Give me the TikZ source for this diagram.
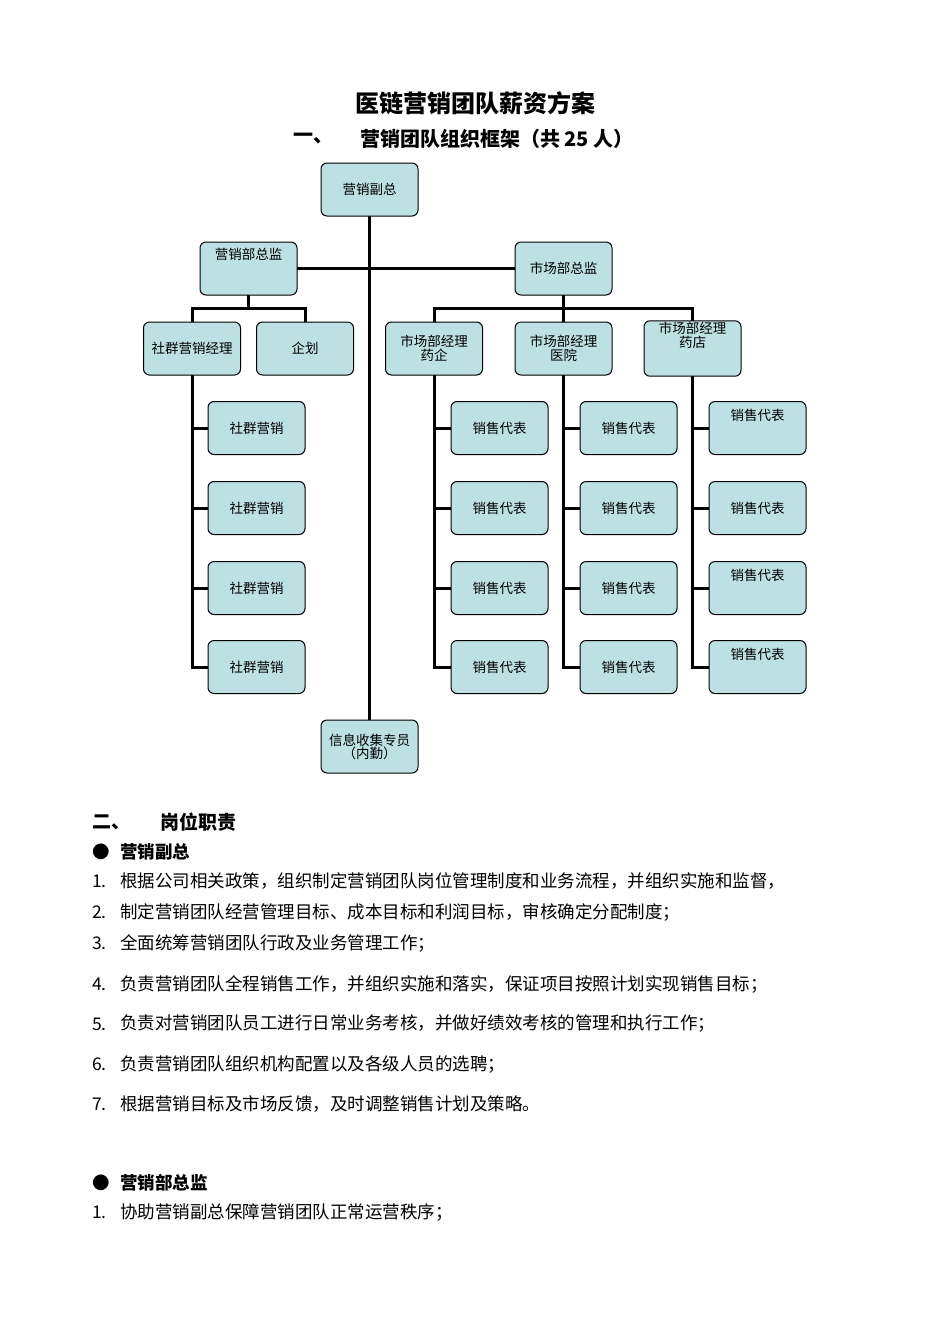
\documentclass[tikz,border=0pt]{standalone}
\usepackage{fontspec}
\setmainfont{Liberation Serif}
\newfontfamily\cjk{Noto Sans CJK SC}
\definecolor{boxfill}{HTML}{BDE0E2}
\begin{document}
\begin{tikzpicture}[x=1pt,y=-1pt,
  org/.style={draw=black,line width=1pt,fill=boxfill,rounded corners=6pt,minimum width=97pt,minimum height=53pt,inner sep=1pt,font=\cjk\fontsize{13.5}{14}\selectfont,align=center},
  orgt/.style={org,anchor=north,text depth=26pt},
  con/.style={line width=3pt},
  body/.style={anchor=west,inner sep=0pt,font=\cjk\fontsize{17.5}{20}\selectfont},
  head/.style={anchor=west,inner sep=0pt,font=\cjk\bfseries\fontsize{19}{22}\selectfont}]
\useasboundingbox[fill=white] (0,0) rectangle (950,1344);
\node[inner sep=0pt,font=\cjk\bfseries\fontsize{24}{26}\selectfont] (t1) at (475,103) {医链营销团队薪资方案};
\node[head,font=\cjk\bfseries\fontsize{20}{22}\selectfont] (t2a) at (293,139) {一、};
\node[head,font=\cjk\bfseries\fontsize{20}{22}\selectfont] (t2b) at (360,139) {营销团队组织框架（共 25 人）};
% connectors first
\coordinate (jl) at (248.5,308); \coordinate (jr) at (563.5,308);
\draw[con] (369.5,215) -- (369.5,720);
\draw[con] (297,268.5) -- (515,268.5);
\draw[con] (248.5,295) -- (248.5,308) (192,322) |- (305,308) -- (305,322);
\draw[con] (563.5,295) -- (563.5,322) (434,322) |- (692.5,308) -- (692.5,322);
\foreach \x/\c in {192/256.5,434/499.5,563.5/628.5,692.5/757.5}{
  \draw[con] (\x,375) -- (\x,667) -- (\c,667);
  \foreach \y in {428,508,588} \draw[con] (\x,\y) -- (\c,\y);
}
\node[org] (vp) at (369.5,189.5) {营销副总};
\node[org] (yx) at (248.5,268.5) {营销部总监\\[16pt]\mbox{}};
\node[org] (sc) at (563.5,268.5) {市场部总监};
\node[org] (sq) at (192,348.5) {社群营销经理};
\node[org] (qh) at (305,348.5) {企划};
\node[org] (m1) at (434,348.5) {市场部经理\\药企};
\node[org] (m2) at (563.5,348.5) {市场部经理\\医院};
\node[org] (m3) at (692.5,348.5) {市场部经理\\药店\\[14pt]\mbox{}};
\foreach \y [count=\i] in {428,508,588,667}{
  \node[org] (a\i) at (256.5,\y) {社群营销};
  \node[org] (b\i) at (499.5,\y) {销售代表};
  \node[org] (c\i) at (628.5,\y) {销售代表};
}
\node[org] (d1) at (757.5,428) {销售代表\\[12pt]\mbox{}};
\node[org] (d2) at (757.5,508) {销售代表};
\node[org] (d3) at (757.5,588) {销售代表\\[12pt]\mbox{}};
\node[org] (d4) at (757.5,667) {销售代表\\[12pt]\mbox{}};
\node[org,font=\cjk\fontsize{13.5}{13}\selectfont] (nq) at (369.5,746.5) {信息收集专员\\（内勤）};
% text
\node[head] (h2a) at (92,822) {二、};
\node[head] (h2b) at (160,822) {岗位职责};
\node[body] (bu1) at (92,852) {●};
\node[head,font=\cjk\bfseries\fontsize{17.5}{20}\selectfont] (s1) at (120,852) {营销副总};
\foreach \y/\n/\t in {881/1/根据公司相关政策，组织制定营销团队岗位管理制度和业务流程，并组织实施和监督，,
  912/2/制定营销团队经营管理目标、成本目标和利润目标，审核确定分配制度；,
  943/3/全面统筹营销团队行政及业务管理工作；,
  984/4/负责营销团队全程销售工作，并组织实施和落实，保证项目按照计划实现销售目标；,
  1024/5/负责对营销团队员工进行日常业务考核，并做好绩效考核的管理和执行工作；,
  1064/6/负责营销团队组织机构配置以及各级人员的选聘；,
  1104/7/根据营销目标及市场反馈，及时调整销售计划及策略。}{
  \node[body] (n\n) at (92,\y) {\n.};
  \node[body] (l\n) at (120,\y) {\t};
}
\node[body] (bu2) at (92,1183) {●};
\node[head,font=\cjk\bfseries\fontsize{17.5}{20}\selectfont] (s2) at (120,1183) {营销部总监};
\node[body] (n21) at (92,1212) {1.};
\node[body] (l21) at (120,1212) {协助营销副总保障营销团队正常运营秩序；};
\end{tikzpicture}
\end{document}
